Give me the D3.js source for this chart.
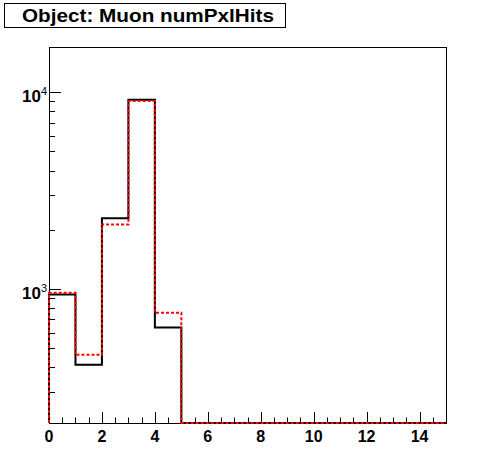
<!DOCTYPE html>
<html>
<head>
<meta charset="utf-8">
<script src="https://cdn.jsdelivr.net/npm/d3@7"></script>
<style>
  body { margin: 0; background: #fff; }
  text { font-family: "Liberation Sans", Arial, sans-serif; font-weight: bold; }
</style>
</head>
<body>
<svg width="496" height="472"></svg>
<script>
// bin edges 0..15, one unit per bin
var binEdges = d3.range(0, 16);
var blackCounts = [938, 411, 2285, 9170, 637, 0, 0, 0, 0, 0, 0, 0, 0, 0, 0];
var redCounts   = [957, 462, 2128, 9030, 757, 0, 0, 0, 0, 0, 0, 0, 0, 0, 0];
var xTickLabels = [0, 2, 4, 6, 8, 10, 12, 14];
var yDecades = [3, 4];
var title = "Object: Muon numPxlHits";

var svg = d3.select("svg"),
  padL = 49, padR = 446, padT = 47, padB = 423;

var x = d3.scaleLinear().domain([0, 15]).range([padL, padR]);
var y = d3.scaleLog().domain([208, 17000]).range([padB, padT]);

// title box
svg.append("rect")
  .attr("x", 4.5).attr("y", 3.5).attr("width", 281).attr("height", 24)
  .attr("fill", "#fff").attr("stroke", "#000").attr("stroke-width", 1);
svg.append("text")
  .attr("x", 22).attr("y", 22)
  .attr("textLength", 252)
  .attr("lengthAdjust", "spacingAndGlyphs")
  .style("font-size", "19px")
  .text(title);

// frame
svg.append("rect")
  .attr("x", padL + 0.5).attr("y", padT + 0.5)
  .attr("width", padR - padL).attr("height", padB - padT)
  .attr("fill", "none").attr("stroke", "#000").attr("stroke-width", 1);

// x ticks: majors every 2, minors every 0.5
var xMinor = d3.range(0, 15.01, 0.5);
svg.append("g").selectAll("line")
  .data(xMinor)
  .enter().append("line")
  .attr("x1", function (d) { return Math.round(x(d)) + 0.5; })
  .attr("x2", function (d) { return Math.round(x(d)) + 0.5; })
  .attr("y1", padB)
  .attr("y2", function (d) { return d % 2 === 0 ? padB - 11 : padB - 5.5; })
  .attr("stroke", "#000");

svg.append("g").selectAll("text")
  .data(xTickLabels)
  .enter().append("text")
  .attr("x", function (d) { return x(d); })
  .attr("y", 442)
  .attr("text-anchor", "middle")
  .style("font-size", "16px")
  .text(function (d) { return d; });

// y ticks on log scale
var yMinor = [];
[2, 3].forEach(function (e) {
  d3.range(1, 10).forEach(function (m) { yMinor.push(m * Math.pow(10, e)); });
});
yMinor.push(10000);
yMinor = yMinor.filter(function (v) { return v >= 208 && v <= 17000; });

svg.append("g").selectAll("line")
  .data(yMinor)
  .enter().append("line")
  .attr("x1", padL)
  .attr("x2", function (d) {
    var l = Math.log10(d);
    return Math.abs(l - Math.round(l)) < 1e-9 ? padL + 12 : padL + 6;
  })
  .attr("y1", function (d) { return Math.round(y(d)) + 0.5; })
  .attr("y2", function (d) { return Math.round(y(d)) + 0.5; })
  .attr("stroke", "#000");

var yl = svg.append("g").selectAll("text")
  .data(yDecades)
  .enter().append("text")
  .attr("x", 47)
  .attr("y", function (d) { return y(Math.pow(10, d)) + 10; })
  .attr("text-anchor", "end")
  .style("font-size", "17px");
yl.append("tspan").text("10");
yl.append("tspan")
  .attr("dy", -7)
  .style("font-size", "11px")
  .style("font-weight", "normal")
  .text(function (d) { return d; });

// step outline for a histogram, zero bins drawn at the bottom
function stepPath(counts) {
  var pts = [];
  var yb = y.range()[0];
  function yv(v) { return v > 0 ? y(v) : yb; }
  pts.push([x(binEdges[0]), yb]);
  counts.forEach(function (c, i) {
    pts.push([x(binEdges[i]), yv(c)]);
    pts.push([x(binEdges[i + 1]), yv(c)]);
  });
  pts.push([x(binEdges[binEdges.length - 1]), yb]);
  return d3.line()(pts);
}

svg.append("path")
  .attr("d", stepPath(blackCounts))
  .attr("fill", "none")
  .attr("stroke", "#000")
  .attr("stroke-width", 2);

svg.append("path")
  .attr("d", stepPath(redCounts))
  .attr("fill", "none")
  .attr("stroke", "#ff0000")
  .attr("stroke-width", 2)
  .attr("stroke-dasharray", "3,2");
</script>
</body>
</html>
